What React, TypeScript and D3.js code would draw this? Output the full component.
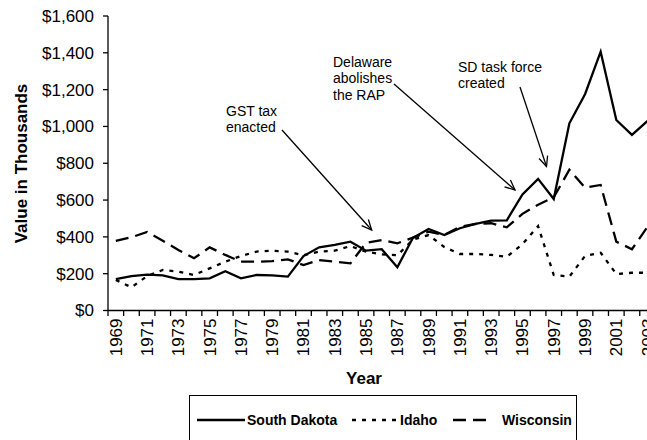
import { useEffect, useRef } from "react";
import * as d3 from "d3";

const years = [
	1969, 1970, 1971, 1972, 1973, 1974, 1975, 1976, 1977, 1978, 1979, 1980,
	1981, 1982, 1983, 1984, 1985, 1986, 1987, 1988, 1989, 1990, 1991, 1992,
	1993, 1994, 1995, 1996, 1997, 1998, 1999, 2000, 2001, 2002, 2003,
];

const southDakota = [
	170, 187, 195, 191, 170, 170, 175, 213, 175, 193, 191, 184,
	296, 343, 356, 374, 325, 333, 235, 395, 443, 410, 447, 470,
	488, 490, 631, 715, 606, 1017, 1175, 1406, 1035, 954, 1030,
];

const idaho = [
	166, 126, 187, 220, 211, 193, 229, 265, 296, 320, 325, 320,
	300, 320, 325, 350, 320, 305, 300, 385, 410, 345, 307, 307,
	302, 292, 360, 459, 193, 184, 296, 314, 198, 205, 205,
];

const wisconsin = [
	378, 398, 427, 379, 329, 284, 343, 302, 265, 265, 268, 278,
	247, 274, 265, 256, 368, 383, 365, 396, 428, 410, 455, 470,
	474, 452, 525, 575, 615, 765, 667, 682, 374, 333, 455,
];

const yTicks = [0, 200, 400, 600, 800, 1000, 1200, 1400, 1600];
const yearLabels = years.filter((y) => y % 2 === 1);

const seriesNames = ["South Dakota", "Idaho", "Wisconsin"];
const seriesDash = ["none", "4,6", "13,7"];

const FONT = "'Liberation Sans', Arial, sans-serif";
const W = 647;
const H = 440;

export default function App() {
	const svgRef = useRef<SVGSVGElement>(null);

	useEffect(() => {
		if (!svgRef.current) return;
		const svg = d3.select(svgRef.current);
		svg.selectAll("*").remove();

		const left = 108;
		const bandW = 15.64;
		const x = d3
			.scaleBand<number>()
			.domain(years)
			.range([left, left + bandW * years.length]);
		const y = d3.scaleLinear().domain([0, 1600]).range([310.5, 16]);
		const cx = (yr: number) => (x(yr) || 0) + x.bandwidth() / 2;

		svg
			.append("defs")
			.append("marker")
			.attr("id", "arrow")
			.attr("viewBox", "-12 -6 14 12")
			.attr("markerWidth", 14)
			.attr("markerHeight", 12)
			.attr("markerUnits", "userSpaceOnUse")
			.attr("orient", "auto")
			.append("path")
			.attr("d", "M-10,-4.5 L0,0 L-10,4.5")
			.attr("fill", "none")
			.attr("stroke", "#000")
			.attr("stroke-width", 1.3);

		// y axis
		const gy = svg.append("g");
		gy.append("line")
			.attr("x1", left).attr("x2", left)
			.attr("y1", y(1600)).attr("y2", y(0))
			.attr("stroke", "#000").attr("stroke-width", 1.3);
		gy.selectAll(".t")
			.data(yTicks)
			.enter()
			.append("line")
			.attr("x1", left - 5).attr("x2", left)
			.attr("y1", (d) => y(d)).attr("y2", (d) => y(d))
			.attr("stroke", "#000").attr("stroke-width", 1.3);
		gy.selectAll("text")
			.data(yTicks)
			.enter()
			.append("text")
			.attr("x", left - 14)
			.attr("y", (d) => y(d))
			.attr("dy", "0.35em")
			.attr("text-anchor", "end")
			.style("font-family", FONT)
			.style("font-size", "17px")
			.text((d) => "$" + d3.format(",")(d));

		// x axis
		const gx = svg.append("g");
		const xEnd = left + bandW * years.length;
		gx.append("line")
			.attr("x1", left).attr("x2", xEnd)
			.attr("y1", y(0)).attr("y2", y(0))
			.attr("stroke", "#000").attr("stroke-width", 1.3);
		gx.selectAll(".t")
			.data(years)
			.enter()
			.append("line")
			.attr("x1", (d) => x(d) || 0).attr("x2", (d) => x(d) || 0)
			.attr("y1", y(0)).attr("y2", y(0) + 5.5)
			.attr("stroke", "#000").attr("stroke-width", 1.3);
		gx.selectAll("text")
			.data(yearLabels)
			.enter()
			.append("text")
			.attr("transform", (d) => `translate(${cx(d)},${y(0) + 8}) rotate(-90)`)
			.attr("dy", "0.35em")
			.attr("text-anchor", "end")
			.style("font-family", FONT)
			.style("font-size", "17px")
			.text((d) => String(d));

		// axis titles
		svg.append("text")
			.attr("transform", `translate(21,${(82 + 245) / 2}) rotate(-90)`)
			.attr("dy", "0.35em")
			.attr("text-anchor", "middle")
			.style("font-family", FONT)
			.style("font-size", "17px")
			.style("font-weight", "bold")
			.text("Value in Thousands");
		svg.append("text")
			.attr("x", 364)
			.attr("y", 378)
			.attr("dy", "0.35em")
			.attr("text-anchor", "middle")
			.style("font-family", FONT)
			.style("font-size", "17px")
			.style("font-weight", "bold")
			.text("Year");

		// series lines
		const allSeries = [southDakota, idaho, wisconsin];
		const line = d3
			.line<number>()
			.x((_, i) => cx(years[i]))
			.y((d) => y(d));
		allSeries.forEach((vals, i) => {
			svg.append("path")
				.datum(vals)
				.attr("d", line)
				.attr("fill", "none")
				.attr("stroke", "#000")
				.attr("stroke-width", 2.3)
				.attr("stroke-dasharray", seriesDash[i]);
		});

		// annotations
		const notes = [
			{ lines: ["GST tax", "enacted"], tx: 226, ty: 111, from: [282, 130], to: [371.7, 230] },
			{ lines: ["Delaware", "abolishes", "the RAP"], tx: 333, ty: 62, from: [394, 84], to: [515, 190] },
			{ lines: ["SD task force", "created"], tx: 458, ty: 67, from: [520, 87], to: [546.5, 166.5] },
		];
		notes.forEach((n) => {
			const t = svg.append("text")
				.style("font-family", FONT)
				.style("font-size", "14px");
			n.lines.forEach((l, i) => {
				t.append("tspan")
					.attr("x", n.tx)
					.attr("y", n.ty + i * 16.3)
					.attr("dy", "0.35em")
					.text(l);
			});
			svg.append("line")
				.attr("x1", n.from[0]).attr("y1", n.from[1])
				.attr("x2", n.to[0]).attr("y2", n.to[1])
				.attr("stroke", "#000")
				.attr("stroke-width", 1.3)
				.attr("marker-end", "url(#arrow)");
		});

		// legend
		const lg = svg.append("g");
		lg.append("rect")
			.attr("x", 189.5).attr("y", 395.5)
			.attr("width", 387).attr("height", 60)
			.attr("fill", "none").attr("stroke", "#000").attr("stroke-width", 1);
		const samples = [
			{ x1: 197, x2: 245, tx: 247 },
			{ x1: 352, x2: 398, tx: 400 },
			{ x1: 453, x2: 492, tx: 502 },
		];
		seriesNames.forEach((name, i) => {
			lg.append("line")
				.attr("x1", samples[i].x1).attr("x2", samples[i].x2)
				.attr("y1", 420).attr("y2", 420)
				.attr("stroke", "#000").attr("stroke-width", 2.3)
				.attr("stroke-dasharray", seriesDash[i]);
			lg.append("text")
				.attr("x", samples[i].tx)
				.attr("y", 420)
				.attr("dy", "0.35em")
				.style("font-family", FONT)
				.style("font-size", "14px")
				.style("font-weight", "bold")
				.text(name);
		});
	}, []);

	return (
		<svg
			ref={svgRef}
			width={W}
			height={H}
			style={{ position: "absolute", left: 0, top: 0, background: "#fff", display: "block" }}
		/>
	);
}
